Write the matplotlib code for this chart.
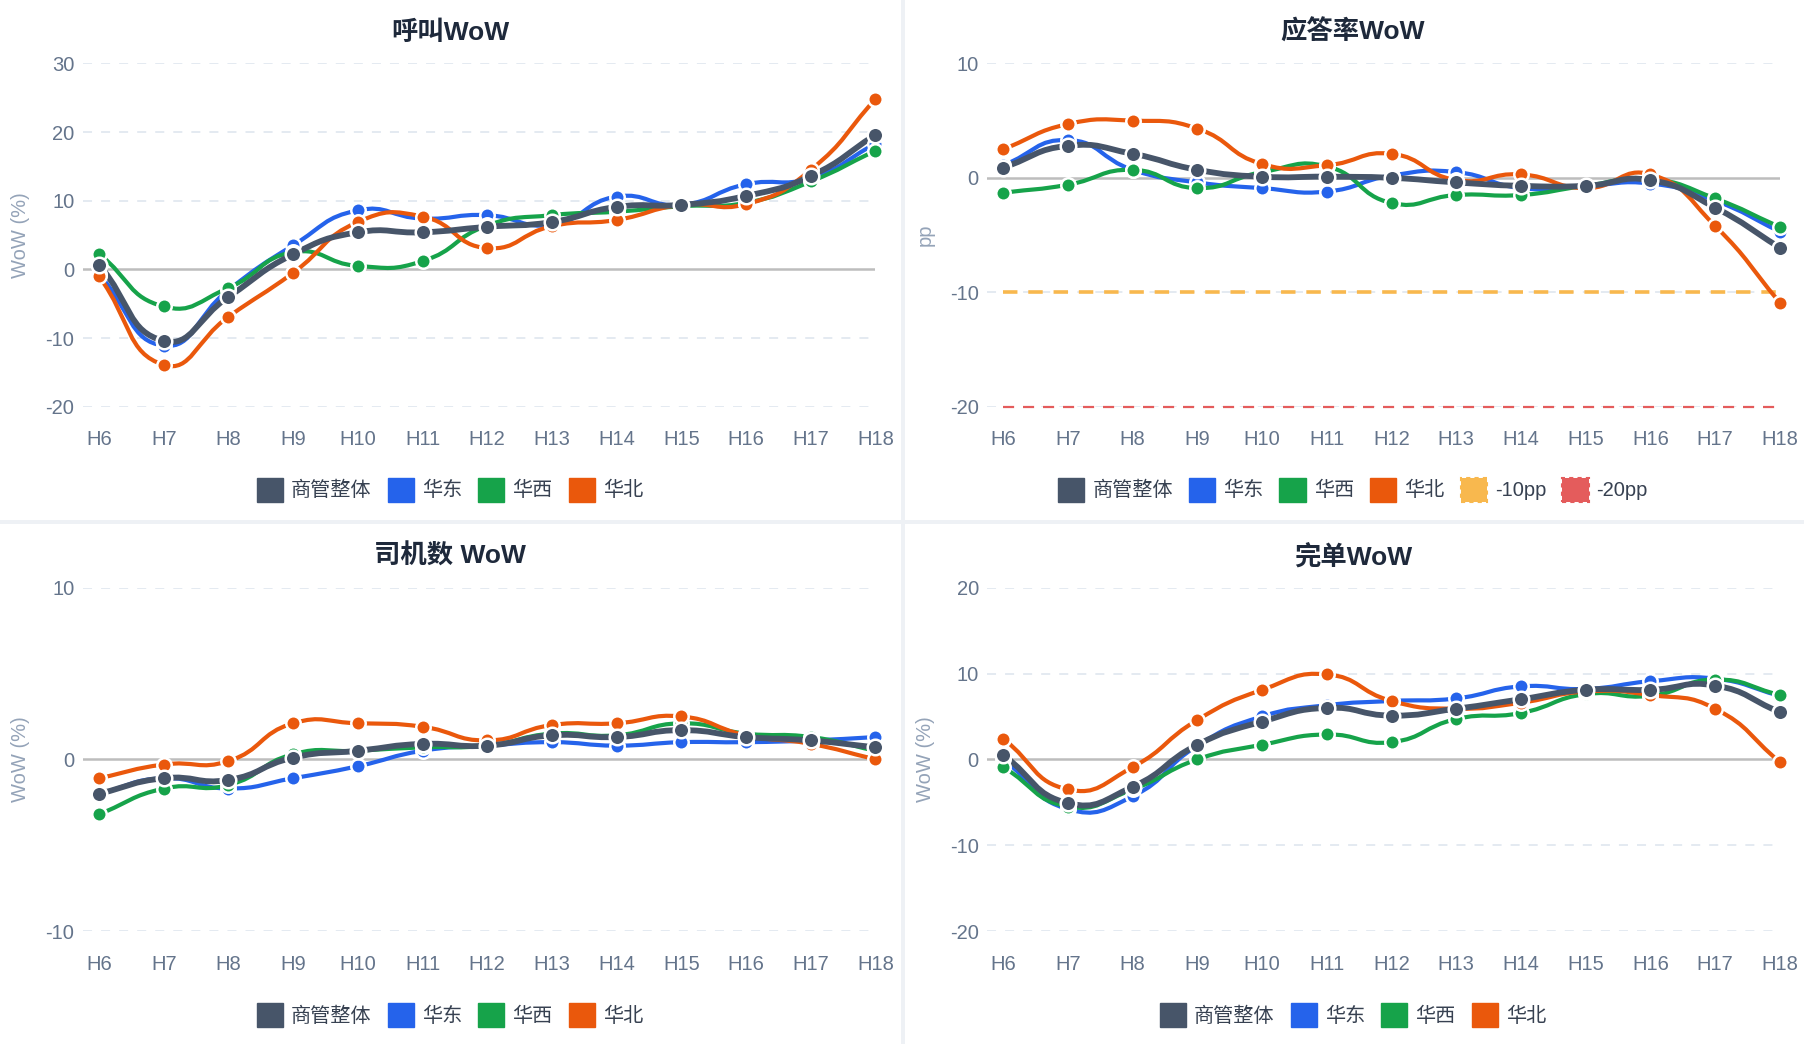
import numpy as np
import matplotlib
matplotlib.use("Agg")
import matplotlib.pyplot as plt
from matplotlib.path import Path
from matplotlib.patches import PathPatch, Patch, Rectangle

plt.rcParams['font.family'] = ['Liberation Sans', 'Noto Sans CJK SC']

# 数据
hours = ["H6", "H7", "H8", "H9", "H10", "H11", "H12", "H13", "H14", "H15", "H16", "H17", "H18"]
series_names = ["商管整体", "华东", "华西", "华北"]
series_colors = ["#475569", "#2563eb", "#16a34a", "#ea580c"]

call_wow = [
    [0.7, -10.4, -4.0, 2.2, 5.4, 5.4, 6.2, 6.9, 9.1, 9.4, 10.7, 13.6, 19.6],
    [-0.7, -11.1, -3.0, 3.5, 8.6, 7.4, 7.9, 6.5, 10.6, 9.4, 12.4, 13.3, 18.3],
    [2.3, -5.4, -2.7, 2.5, 0.5, 1.2, 6.4, 7.9, 8.4, 9.2, 9.7, 12.8, 17.3],
    [-1.0, -13.9, -6.9, -0.5, 6.9, 7.7, 3.1, 6.3, 7.2, 9.4, 9.5, 14.5, 24.8],
]
answer_wow = [
    [0.9, 2.8, 2.1, 0.7, 0.1, 0.1, 0.0, -0.4, -0.7, -0.7, -0.2, -2.6, -6.1],
    [1.1, 3.3, 0.7, -0.4, -0.9, -1.2, 0.2, 0.5, -0.9, -0.7, -0.5, -2.0, -4.7],
    [-1.3, -0.6, 0.7, -0.9, 0.5, 1.0, -2.2, -1.5, -1.5, -0.7, -0.1, -1.8, -4.3],
    [2.5, 4.7, 5.0, 4.3, 1.2, 1.1, 2.1, -0.2, 0.3, -0.9, 0.3, -4.2, -10.9],
]
driver_wow = [
    [-2.0, -1.1, -1.2, 0.1, 0.5, 0.9, 0.8, 1.4, 1.3, 1.7, 1.3, 1.1, 0.7],
    [-2.0, -1.1, -1.7, -1.1, -0.4, 0.5, 0.8, 1.0, 0.8, 1.0, 1.0, 1.1, 1.3],
    [-3.2, -1.7, -1.5, 0.3, 0.5, 0.7, 0.8, 1.5, 1.4, 2.1, 1.5, 1.3, 0.5],
    [-1.1, -0.3, -0.1, 2.1, 2.1, 1.9, 1.1, 2.0, 2.1, 2.5, 1.4, 0.9, 0.0],
]
finish_wow = [
    [0.5, -5.1, -3.2, 1.7, 4.4, 6.0, 5.1, 5.9, 7.0, 8.1, 8.1, 8.6, 5.5],
    [0.0, -5.8, -4.3, 1.6, 5.0, 6.3, 6.8, 7.1, 8.5, 8.2, 9.1, 9.4, 7.4],
    [-0.9, -5.5, -3.5, 0.0, 1.7, 2.9, 2.0, 4.7, 5.4, 7.6, 7.4, 9.3, 7.5],
    [2.4, -3.5, -0.9, 4.6, 8.1, 9.9, 6.8, 5.9, 6.6, 7.9, 7.5, 5.9, -0.3],
]
thresholds = [-10, -20]
threshold_names = ["-10pp", "-20pp"]
threshold_colors = ["#f8b84e", "#e45c5c"]

TEXT = "#1e293b"
TICK = "#64748b"
AXNAME = "#94a3b8"


def smooth_path(ax, xs, ys, smooth=0.5):
    # courbe lissée façon echarts, calculée en pixels puis ramenée en données
    pts = ax.transData.transform(np.column_stack([xs, ys]))
    n = len(pts)
    cp_in = pts.copy()
    cp_out = pts.copy()
    for i in range(n):
        p = pts[i]
        prev = pts[i - 1] if i > 0 else p
        nxt = pts[i + 1] if i < n - 1 else p
        v = (nxt - prev) * smooth
        d0 = np.hypot(*(p - prev))
        d1 = np.hypot(*(p - nxt))
        s = d0 + d1
        if s == 0:
            continue
        cp_in[i] = p - v * d0 / s
        cp_out[i] = p + v * d1 / s
    verts = [pts[0]]
    codes = [Path.MOVETO]
    for i in range(n - 1):
        verts += [cp_out[i], cp_in[i + 1], pts[i + 1]]
        codes += [Path.CURVE4] * 3
    verts = ax.transData.inverted().transform(np.array(verts))
    return Path(verts, codes)


fig = plt.figure(figsize=(18.04, 10.44), dpi=100)
fig.patch.set_facecolor("#eef1f5")
for rect in [(0, 0.502, 0.4994, 0.498), (0.5019, 0.502, 0.4981, 0.498),
             (0, 0, 0.4994, 0.4978), (0.5019, 0, 0.4981, 0.4978)]:
    fig.patches.append(Rectangle(rect[:2], rect[2], rect[3], transform=fig.transFigure,
                                 facecolor="white", edgecolor="none", zorder=-5))

panels = [
    ("呼叫WoW", call_wow, (-20, 30), [-20, -10, 0, 10, 20, 30], "WoW (%)", (0.0459, 0.6104), 0.2494, 0.969, 0.531, False),
    ("应答率WoW", answer_wow, (-20, 10), [-20, -10, 0, 10], "pp", (0.5472, 0.6104), 0.750, 0.969, 0.531, True),
    ("司机数 WoW", driver_wow, (-10, 10), [-10, 0, 10], "WoW (%)", (0.0459, 0.1082), 0.2494, 0.4669, 0.0276, False),
    ("完单WoW", finish_wow, (-20, 20), [-20, -10, 0, 10, 20], "WoW (%)", (0.5472, 0.1082), 0.750, 0.4669, 0.0276, False),
]

x = np.arange(len(hours))

for title, data, ylim, yticks, yname, (l, b), tx, ty, ly, with_thr in panels:
    ax = fig.add_axes([l, b, 0.4394, 0.3289])
    ax.set_facecolor("none")
    ax.set_xlim(-0.25, len(hours) - 1)
    ax.set_ylim(*ylim)
    for s in ax.spines.values():
        s.set_visible(False)
    ax.set_yticks(yticks)
    ax.set_yticklabels([str(t) for t in yticks])
    ax.set_xticks(x)
    ax.set_xticklabels(hours)
    ax.tick_params(axis="y", length=0, pad=6, labelsize=14.5, labelcolor=TICK)
    ax.tick_params(axis="x", length=0, pad=17, labelsize=14.5, labelcolor=TICK)
    for t in yticks:
        if t != 0:
            ax.axhline(t, color="#e2e8f0", lw=1.3, ls=(0, (5, 5)), zorder=0.5)
    ax.axhline(0, color="#bdbdbd", lw=1.8, zorder=1)
    ax.set_ylabel(yname, color=AXNAME, fontsize=14.5)
    ax.yaxis.set_label_coords(-0.066, 0.5)

    handles = []
    if with_thr:
        for thr, c, lw, dash in zip(thresholds, threshold_colors, [2.6, 1.6], [(0, (4, 3)), (0, (5, 4))]):
            ax.plot(x, [thr] * len(hours), color=c, lw=lw, ls=dash, zorder=1.5, clip_on=False)

    order = [1, 2, 3, 0]
    for k in order:
        z = 2.5 if k == 0 else 2
        lw = 4.2 if k == 0 else 3.0
        ax.add_patch(PathPatch(smooth_path(ax, x, data[k]), fill=False, edgecolor=series_colors[k],
                               lw=lw, capstyle="round", joinstyle="round", zorder=z, clip_on=False))
    for k in order:
        z = 3.5 if k == 0 else 3
        ms = 11.2 if k == 0 else 10.4
        ax.plot(x, data[k], ls="none", marker="o", ms=ms, mfc=series_colors[k], mec="white",
                mew=1.8, zorder=z, clip_on=False)

    for name, c in zip(series_names, series_colors):
        handles.append(Patch(facecolor=c, edgecolor=c, label=name))
    if with_thr:
        for name, c in zip(threshold_names, threshold_colors):
            handles.append(Patch(facecolor=c, edgecolor=c, ls=(0, (2, 2)), lw=1.5, label=name))

    fig.text(tx, ty, title, ha="center", va="center", fontsize=19, fontweight="bold", color=TEXT)
    fig.legend(handles=handles, loc="center", bbox_to_anchor=(tx, ly), ncol=len(handles), frameon=False,
               fontsize=14.5, handlelength=1.3, handleheight=1.45, handletextpad=0.4,
               columnspacing=0.8, labelcolor="#374151")

fig.savefig("out.png", dpi=100, facecolor=fig.get_facecolor())
